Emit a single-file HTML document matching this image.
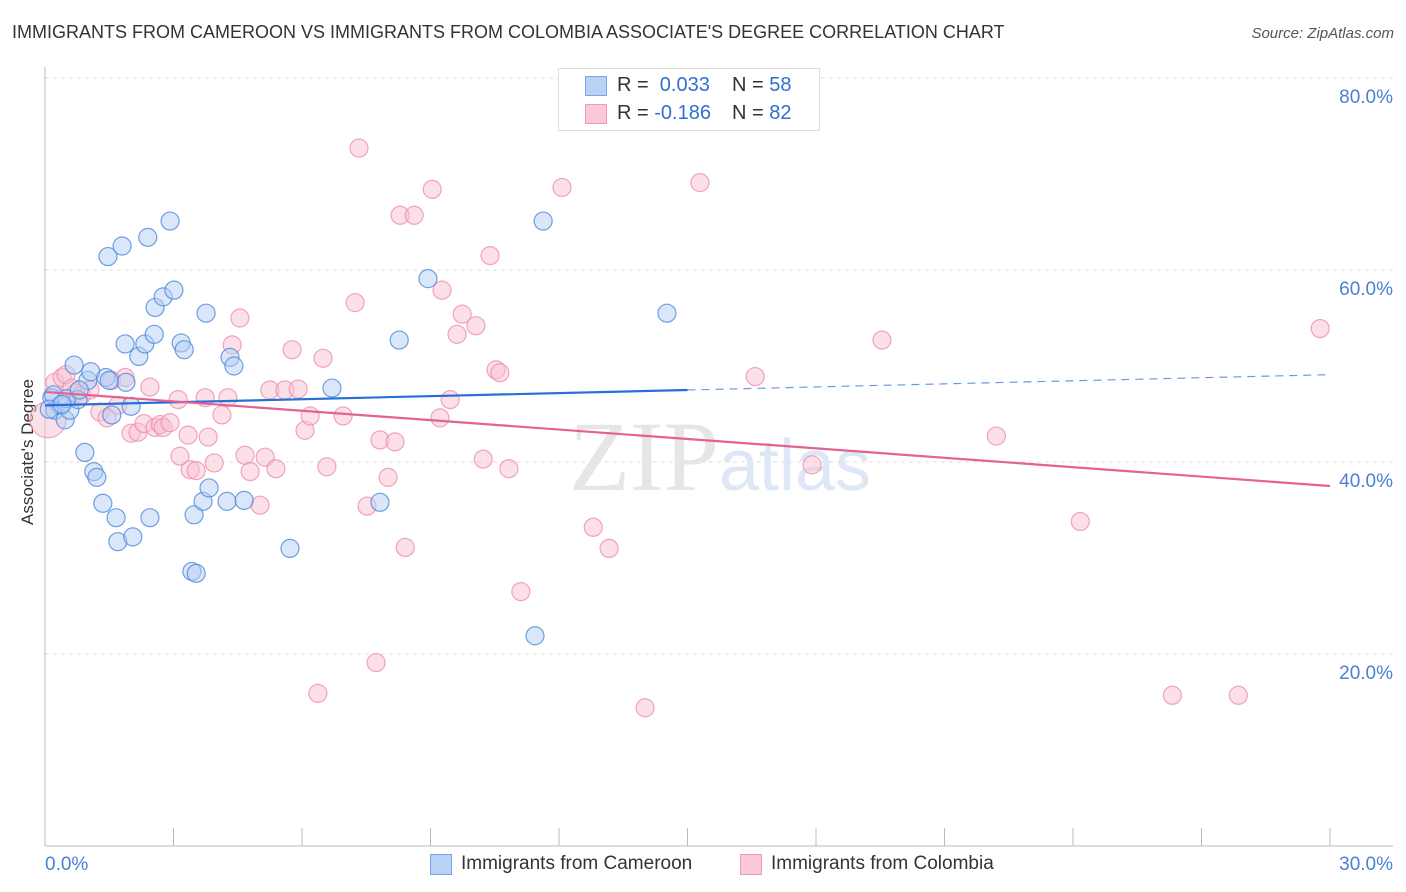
<!DOCTYPE html>
<html><head><meta charset="utf-8">
<style>
body{margin:0;background:#fff;font-family:"Liberation Sans",sans-serif;}
#wrap{position:relative;width:1406px;height:892px;overflow:hidden;}
.t{position:absolute;white-space:nowrap;}
</style></head>
<body>
<div id="wrap">
<div class="t" style="left:12px;top:22px;font-size:18px;color:#333;">IMMIGRANTS FROM CAMEROON VS IMMIGRANTS FROM COLOMBIA ASSOCIATE'S DEGREE CORRELATION CHART</div>
<div class="t" style="right:12px;top:25px;font-size:15px;color:#555;font-style:italic;">Source: ZipAtlas.com</div>
<div class="t" style="left:-42px;top:445px;font-size:17px;color:#333;transform:rotate(-90deg);transform-origin:center;width:140px;text-align:center;">Associate's Degree</div>
<svg id="svg" width="1406" height="892" style="position:absolute;left:0;top:0"></svg>
<div style="position:absolute;left:558px;top:68px;width:260px;height:61px;border:1px solid #ddd;background:#fff;font-size:20px;">
 <div style="position:absolute;left:26px;top:7px;width:20px;height:18px;background:#b9d1f5;border:1px solid #7aa6e6"></div>
 <div class="t" style="left:58px;top:5px;color:#333">R = <span style="color:#2f6fd0">&nbsp;0.033</span></div>
 <div class="t" style="left:173px;top:5px;color:#333">N = <span style="color:#2f6fd0">58</span></div>
 <div style="position:absolute;left:26px;top:35px;width:20px;height:18px;background:#fbc9d7;border:1px solid #ef98b1"></div>
 <div class="t" style="left:58px;top:33px;color:#333">R = <span style="color:#2f6fd0">-0.186</span></div>
 <div class="t" style="left:173px;top:33px;color:#333">N = <span style="color:#2f6fd0">82</span></div>
</div>
<div style="position:absolute;left:430px;top:854px;font-size:19px;color:#333;">
 <div style="position:absolute;left:0;top:0;width:20px;height:19px;background:#b9d1f5;border:1px solid #7aa6e6"></div>
 <div class="t" style="left:31px;top:-1px">Immigrants from Cameroon</div></div>
<div style="position:absolute;left:740px;top:854px;font-size:19px;color:#333;">
 <div style="position:absolute;left:0;top:0;width:20px;height:19px;background:#fbc9d7;border:1px solid #ef98b1"></div>
 <div class="t" style="left:31px;top:-1px">Immigrants from Colombia</div></div>
</div>
<script>
const blueX=[0.16,0.23,0.35,0.47,0.58,0.68,0.77,0.93,1.00,1.07,1.14,1.21,1.35,1.42,1.56,1.66,1.70,1.47,1.80,1.89,2.01,2.05,1.87,2.19,2.33,2.45,2.40,2.57,2.55,2.76,2.92,3.01,3.18,3.25,3.43,3.53,3.48,3.69,3.83,3.76,4.25,4.32,4.41,4.65,5.72,6.70,7.82,8.27,8.94,11.44,11.63,14.52,0.2,0.5,0.8,0.1,1.5,0.4];
const blueY=[46.7,45.4,45.9,44.4,45.4,50.1,46.5,41.0,48.5,49.4,39.0,38.4,35.7,48.8,44.9,34.2,31.7,61.4,62.5,48.3,45.8,32.2,52.3,51.0,52.3,34.2,63.4,56.1,53.3,57.2,65.1,57.9,52.4,51.7,28.6,28.4,34.5,35.9,37.3,55.5,35.9,50.9,50.0,36.0,31.0,47.7,35.8,52.7,59.1,21.9,65.1,55.5,47.0,46.6,47.5,45.5,48.5,46.0];
const pinkX=[0.07,0.23,0.40,0.49,0.63,0.72,0.86,1.05,1.28,1.45,1.56,1.70,1.87,2.01,2.17,2.31,2.45,2.57,2.69,2.76,2.92,3.11,3.15,3.34,3.39,3.53,3.74,3.81,3.95,4.13,4.27,4.37,4.55,4.67,4.79,5.02,5.14,5.39,5.25,5.60,5.77,5.91,6.07,6.19,6.49,6.58,6.96,7.24,7.33,7.52,7.73,7.82,8.01,8.17,8.29,8.41,8.62,9.04,9.22,9.27,9.46,9.62,9.74,10.06,10.23,10.53,10.62,10.83,10.39,11.11,12.07,12.80,13.17,14.01,15.29,16.58,17.91,19.54,22.21,24.17,26.32,27.86,29.77,6.37];
const pinkY=[44.4,48.3,48.8,49.1,47.7,47.2,47.0,47.5,45.2,44.6,48.5,45.9,48.8,43.0,43.1,44.0,47.8,43.6,43.9,43.6,44.1,46.5,40.6,42.8,39.2,39.1,46.7,42.6,39.9,44.9,46.7,52.2,55.0,40.7,39.0,35.5,40.5,39.3,47.5,47.5,51.7,47.6,43.3,44.8,50.8,39.5,44.8,56.6,72.7,35.4,19.1,42.3,38.4,42.1,65.7,31.1,65.7,68.4,44.6,57.9,46.5,53.3,55.4,54.2,40.3,49.6,49.3,39.3,61.5,26.5,68.6,33.2,31.0,14.4,69.1,48.9,39.7,52.7,42.7,33.8,15.7,15.7,53.9,15.9];
const blueTrend=[45.9,49.1];
const pinkTrend=[47.3,37.5];
const yTicks=[20,40,60,80];
const yTickLabels=["20.0%","40.0%","60.0%","80.0%"];
const xTickLabels=["0.0%","30.0%"];

const X0=45,X1=1330,Y0=846,YT=78;
const sx=v=>X0+(X1-X0)*v/30;
const sy=v=>Y0-(Y0-YT)*v/80;
const svg=document.getElementById('svg');const NS='http://www.w3.org/2000/svg';
function mk(tag,attrs){const e=document.createElementNS(NS,tag);for(const k in attrs)e.setAttribute(k,attrs[k]);svg.appendChild(e);return e;}
// gridlines
yTicks.forEach((v,i)=>{
 const g=mk('line',{x1:X0,x2:1393,y1:sy(v),y2:sy(v),stroke:'#ddd','stroke-dasharray':'4,4'});
 
 
 const t=mk('text',{x:1393,y:sy(v)+25,'text-anchor':'end','font-size':19,fill:'#4a80d6','font-family':'Liberation Sans'});
 t.textContent=yTickLabels[i];
 
 
});
// axes
const ya=mk('line',{x1:X0,x2:X0,y1:67,y2:Y0,stroke:'#bbb'});


const xa=mk('line',{x1:X0,x2:1393,y1:Y0,y2:Y0,stroke:'#bbb'});


for(let k=0;k<=10;k++){const tk=mk('line',{x1:sx(k*3),x2:sx(k*3),y1:828,y2:Y0,stroke:'#bbb'});
 
 }
[[0,'start',45],[30,'end',1393]].forEach((a,i)=>{const t=mk('text',{x:a[2],y:870,'text-anchor':a[1],'font-size':19,fill:'#4a80d6','font-family':'Liberation Sans'});t.textContent=xTickLabels[i];
 
 });
// watermark
const wm=mk('text',{x:720,y:490,'text-anchor':'middle','font-size':100,fill:'#e6e6e6','font-family':'Liberation Serif'});
wm.innerHTML='ZIP<tspan font-family="Liberation Sans" font-size="72" fill="#dde7f5">atlas</tspan>';


// points
function pts(xs,ys,fill,stroke,name){xs.forEach((x,i)=>{
 const c=mk('circle',{cx:sx(x),cy:sy(ys[i]),r:(name==='pink-point'&&i===0)?18:9,fill:fill,'fill-opacity':0.5,stroke:stroke,'stroke-width':1.2,'stroke-opacity':0.8});
 
 });}
pts(pinkX,pinkY,'#f9c1d1','#ee8fac','pink-point');
pts(blueX,blueY,'#b5cff3','#4c88dd','blue-point');
// trend lines
const bxm=15;
const bl=mk('line',{x1:sx(0),y1:sy(blueTrend[0]),x2:sx(bxm),y2:sy(blueTrend[0]+(blueTrend[1]-blueTrend[0])*bxm/30),stroke:'#2a6fd6','stroke-width':2.2});


const bd=mk('line',{x1:sx(bxm),y1:sy(blueTrend[0]+(blueTrend[1]-blueTrend[0])*bxm/30),x2:sx(30),y2:sy(blueTrend[1]),stroke:'#2a6fd6','stroke-width':1.2,'stroke-dasharray':'8,6','stroke-opacity':0.7});


const pl=mk('line',{x1:sx(0),y1:sy(pinkTrend[0]),x2:sx(30),y2:sy(pinkTrend[1]),stroke:'#e4628f','stroke-width':2.2});


</script>
</body></html>
